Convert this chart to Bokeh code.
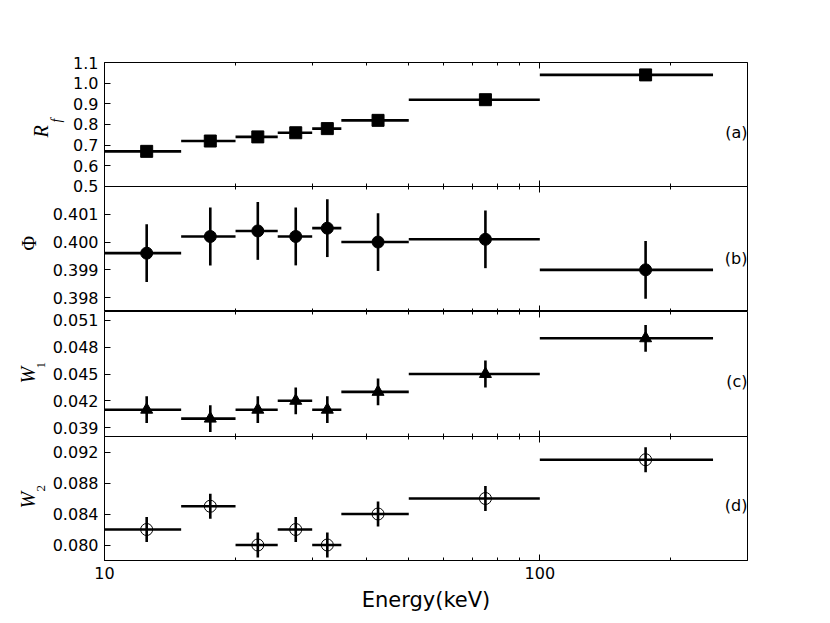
import math
from bokeh.plotting import figure
from bokeh.models import Range1d, FixedTicker, LogAxis, PrintfTickFormatter, Label, Title
from bokeh.layouts import column
from bokeh.embed import file_html
from bokeh.resources import INLINE

# ---- data ----
bin_lo = [10, 15, 20, 25, 30, 35, 50, 100]
bin_hi = [15, 20, 25, 30, 35, 50, 100, 250]
energy = [12.5, 17.5, 22.5, 27.5, 32.5, 42.5, 75, 175]

rf = [0.67, 0.72, 0.74, 0.76, 0.78, 0.82, 0.92, 1.04]
rf_err = [0.005, 0.005, 0.005, 0.005, 0.005, 0.005, 0.005, 0.005]

phi = [0.3996, 0.4002, 0.4004, 0.4002, 0.4005, 0.4000, 0.4001, 0.3990]
phi_err = [0.00104, 0.00104, 0.00104, 0.00104, 0.00104, 0.00104, 0.00104, 0.00104]

w1 = [0.041, 0.040, 0.041, 0.042, 0.041, 0.043, 0.045, 0.049]
w1_err = [0.0015, 0.0015, 0.0015, 0.0015, 0.0015, 0.0015, 0.0015, 0.0015]

w2 = [0.082, 0.085, 0.080, 0.082, 0.080, 0.084, 0.086, 0.091]
w2_err = [0.0016, 0.0016, 0.0016, 0.0016, 0.0016, 0.0016, 0.0016, 0.0016]

x_major = [10, 100]
x_minor = [20, 30, 40, 50, 60, 70, 80, 90, 200, 300]

rf_ticks = [0.5, 0.6, 0.7, 0.8, 0.9, 1.0, 1.1]
phi_ticks = [0.398, 0.399, 0.400, 0.401]
w1_ticks = [0.039, 0.042, 0.045, 0.048, 0.051]
w2_ticks = [0.080, 0.084, 0.088, 0.092]

TICK_FONT = "DejaVu Sans"
LAB_FONT = "Liberation Serif"
x_range = Range1d(10, 300)


def tick_axes(p, where):
    a1 = LogAxis(ticker=FixedTicker(ticks=[], minor_ticks=x_minor),
                 major_label_standoff=0, axis_line_color=None,
                 major_tick_in=0, major_tick_out=0,
                 minor_tick_in=3, minor_tick_out=0, minor_tick_line_color="black")
    a2 = LogAxis(ticker=FixedTicker(ticks=[], minor_ticks=[100]),
                 major_label_standoff=0, axis_line_color=None,
                 major_tick_in=0, major_tick_out=0,
                 minor_tick_in=6, minor_tick_out=0, minor_tick_line_color="black")
    p.add_layout(a1, where)
    p.add_layout(a2, where)


def make_panel(ymin, ymax, yticks, fmt, height, btop, bbottom, z, bottom_labels=False):
    p = figure(width=768, height=height, x_axis_type="log", x_axis_location=None,
               x_range=x_range, y_range=Range1d(ymin, ymax),
               output_backend="svg", toolbar_location=None,
               min_border_left=104, min_border_right=21,
               min_border_top=btop, min_border_bottom=bbottom,
               border_fill_color=None, background_fill_color="white",
               outline_line_color="black", outline_line_width=1)
    p.styles = {"position": "relative", "z-index": str(z)}
    p.grid.visible = False
    ya = p.yaxis[0]
    ya.ticker = FixedTicker(ticks=yticks)
    ya.formatter = PrintfTickFormatter(format=fmt)
    ya.major_tick_in = 6
    ya.major_tick_out = 0
    ya.minor_tick_line_color = None
    ya.major_tick_line_color = "black"
    ya.axis_line_color = "black"
    ya.major_label_text_font = TICK_FONT
    ya.major_label_text_font_size = "16px"
    ya.major_label_text_color = "black"
    ya.major_label_standoff = 6
    tick_axes(p, "above")
    if bottom_labels:
        xa = LogAxis(ticker=FixedTicker(ticks=x_major, minor_ticks=x_minor),
                     formatter=PrintfTickFormatter(format="%d"),
                     major_tick_in=6, major_tick_out=0,
                     minor_tick_in=3, minor_tick_out=0,
                     major_tick_line_color="black", minor_tick_line_color="black",
                     axis_line_color="black",
                     major_label_text_font=TICK_FONT, major_label_text_font_size="16px",
                     major_label_text_color="black", major_label_standoff=6,
                     axis_label="Energy(keV)", axis_label_text_font=TICK_FONT,
                     axis_label_text_font_size="21px", axis_label_text_font_style="normal",
                     axis_label_text_color="black", axis_label_standoff=6)
        p.add_layout(xa, "below")
    else:
        tick_axes(p, "below")
    return p


def draw(p, y, yerr, marker, open_marker=False):
    lo = [v - e for v, e in zip(y, yerr)]
    hi = [v + e for v, e in zip(y, yerr)]
    p.segment(x0=bin_lo, x1=bin_hi, y0=y, y1=y, line_color="black", line_width=2.6)
    p.segment(x0=energy, x1=energy, y0=lo, y1=hi, line_color="black", line_width=2.6)
    if open_marker:
        p.scatter(energy, y, marker=marker, size=12, fill_color=None,
                  line_color="black", line_width=1)
    else:
        p.scatter(energy, y, marker=marker, size=12, fill_color="black",
                  line_color="black")


def tag(p, y, text):
    p.add_layout(Label(x=300, y=y, text=text, text_align="right", text_baseline="middle",
                       text_font=TICK_FONT, text_font_size="16px", text_color="black"))


def ylab(p, text, size, offset, standoff, style="italic"):
    p.add_layout(Title(text=text, align="left", offset=offset, standoff=standoff,
                       text_font=LAB_FONT, text_font_style=style,
                       text_font_size=size, text_color="black"), "left")


pa = make_panel(0.4999, 1.1, rf_ticks, "%.1f", 195, 62, 9, 4)
pa.margin = (0, 0, -9, 0)
draw(pa, rf, rf_err, "square")
tag(pa, 0.761, "(a)")
ylab(pa, "f", "14px", 64, 14)
ylab(pa, "R", "20px", 49, -25)

pb = make_panel(0.3975, 0.402, phi_ticks, "%.3f", 125, 0, 0, 3)
draw(pb, phi, phi_err, "circle")
tag(pb, 0.3994, "(b)")
ylab(pb, "Φ", "20px", 61, 20, "normal")

pc = make_panel(0.038, 0.052, w1_ticks, "%.3f", 130, 0, 5, 2)
pc.margin = (0, 0, -5, 0)
draw(pc, w1, w1_err, "triangle")
tag(pc, 0.04413, "(c)")
ylab(pc, "1", "13px", 68, 10, "normal")
ylab(pc, "W", "20px", 53, -18)

pd = make_panel(0.078, 0.094, w2_ticks, "%.3f", 182, 0, 58, 1, bottom_labels=True)
draw(pd, w2, w2_err, "circle", open_marker=True)
tag(pd, 0.08506, "(d)")
ylab(pd, "2", "13px", 69, 10, "normal")
ylab(pd, "W", "20px", 52, -18)

layout = column(pa, pb, pc, pd, spacing=0)
open("out.html", "w").write(file_html(layout, INLINE))
